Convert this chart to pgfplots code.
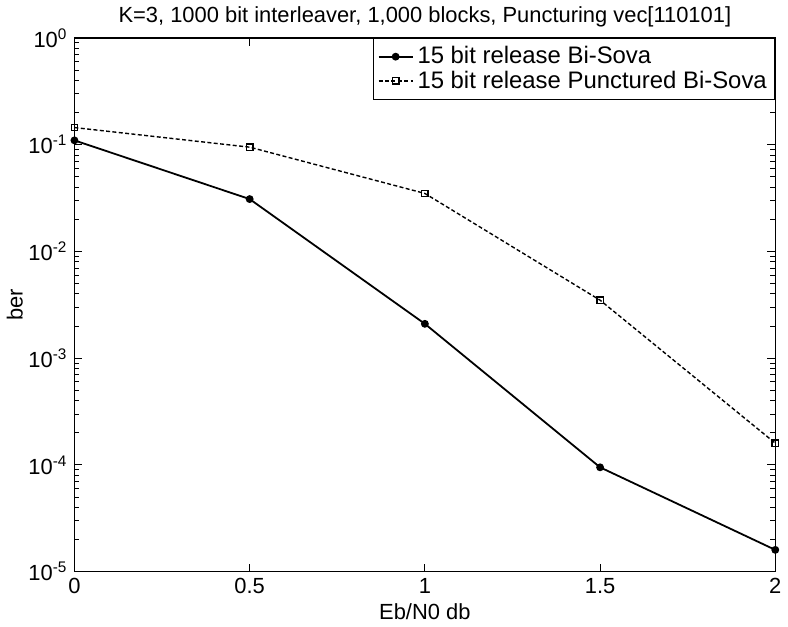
\documentclass[border=0pt]{standalone}
\usepackage{pgfplots}
\pgfplotsset{compat=1.18}
\usepackage{fontspec}
\setmainfont{Liberation Sans}
\begin{document}
\begin{tikzpicture}
\begin{axis}[
    scale only axis,
    width=352pt, height=268pt,
    ymode=log,
    xmin=0, xmax=2, ymin=1e-5, ymax=1,
    xtick={0,0.5,1,1.5,2},
    xticklabels={0,0.5,1,1.5,2},
    ytick={1e-5,1e-4,1e-3,1e-2,1e-1,1},
    yticklabels={10\textsuperscript{-5},10\textsuperscript{-4},10\textsuperscript{-3},10\textsuperscript{-2},10\textsuperscript{-1},10\textsuperscript{0}},
    tick align=inside,
    major tick length=4pt,
    minor tick length=2.5pt,
    tick style={black, line width=0.5pt},
    axis line style={line width=0.6pt},
    font=\fontsize{11}{13}\selectfont,
    title={K=3, 1000 bit interleaver, 1,000 blocks, Puncturing vec[110101]},
    title style={yshift=-4pt},
    xlabel={Eb/N0 db},
    ylabel={ber},
    xlabel style={yshift=2pt},
    ylabel style={yshift=-4pt},
    legend style={at={(rel axis cs:1,1)}, anchor=north east, draw=black,
      line width=0.5pt, font=\fontsize{12}{14}\selectfont, row sep=-2pt,
      inner sep=2pt, cells={anchor=west}},
    legend cell align=left,
]
\addplot[black, line width=0.9pt, mark=*, mark size=1.5pt]
  coordinates {(0,0.11) (0.5,0.031) (1,0.0021) (1.5,9.5e-5) (2,1.6e-5)};
\addlegendentry{15 bit release Bi-Sova}
\addplot[black, line width=0.7pt, dash pattern=on 2pt off 1.2pt, mark=square, mark size=1.6pt, mark options={solid}]
  coordinates {(0,0.145) (0.5,0.095) (1,0.035) (1.5,0.0035) (2,1.6e-4)};
\addlegendentry{15 bit release Punctured Bi-Sova}
\end{axis}
\end{tikzpicture}
\end{document}
